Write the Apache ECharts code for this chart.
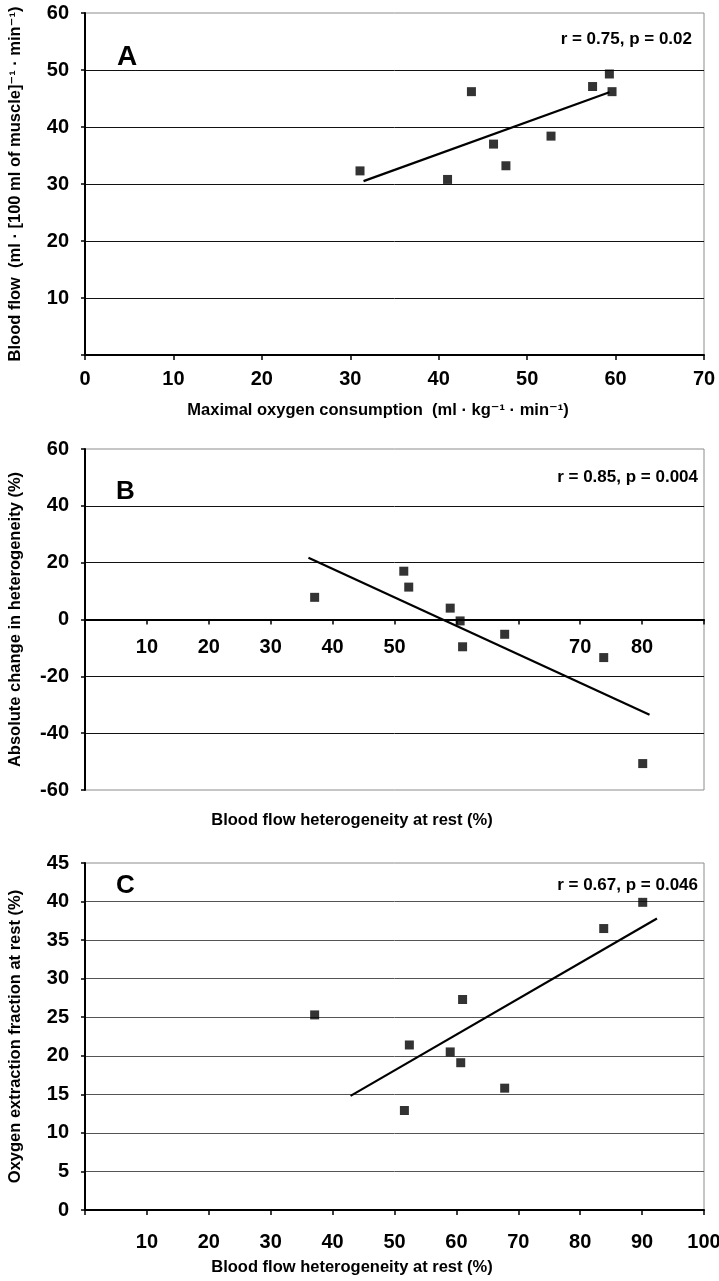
<!DOCTYPE html>
<html>
<head>
<meta charset="utf-8">
<script src="https://cdn.jsdelivr.net/npm/echarts@6/dist/echarts.min.js"></script>
<style>
html,body{margin:0;padding:0;background:#fff;}
#c{width:719px;height:1281px;}
</style>
</head>
<body>
<div id="c"></div>
<script>
// ---------- data ----------
// Panel A
const aVO2      = [31.1, 41.0, 43.7, 46.2, 47.6, 52.7, 57.4, 59.3, 59.6];
const aFlow     = [32.3, 30.8, 46.2, 37.0, 33.2, 38.4, 47.1, 49.3, 46.2];
const aTrendX   = [31.5, 59.3];
const aTrendY   = [30.5, 46.1];
const aXTicks   = ["0", "10", "20", "30", "40", "50", "60", "70"];
const aYTicks   = ["", "10", "20", "30", "40", "50", "60"];
// Panel B
const bHet      = [37.1, 51.5, 52.3, 59.0, 60.6, 61.0, 67.8, 83.8, 90.1];
const bChange   = [7.8, 17.0, 11.4, 4.0, -0.5, -9.6, -5.2, -13.4, -50.7];
const bTrendX   = [36.1, 91.2];
const bTrendY   = [21.7, -33.5];
const bXTicks   = ["", "10", "20", "30", "40", "50", "", "", "70", "80", ""];
const bYTicks   = ["-60", "-40", "-20", "0", "20", "40", "60"];
// Panel C
const cHet      = [37.1, 51.6, 52.4, 59.0, 60.7, 61.0, 67.8, 83.8, 90.1];
const cO2       = [25.3, 12.9, 21.4, 20.5, 19.1, 27.3, 15.8, 36.5, 39.9];
const cTrendX   = [42.9, 92.4];
const cTrendY   = [14.8, 37.8];
const cXTicks   = ["", "10", "20", "30", "40", "50", "60", "70", "80", "90", "100"];
const cYTicks   = ["0", "5", "10", "15", "20", "25", "30", "35", "40", "45"];

const panelLetters = ["A", "B", "C"];
const statTexts = ["r = 0.75, p = 0.02", "r = 0.85, p = 0.004", "r = 0.67, p = 0.046"];
const xTitles = ["Maximal oxygen consumption  (ml \u00b7 kg\u207b\u00b9 \u00b7 min\u207b\u00b9)",
                 "Blood flow heterogeneity at rest (%)",
                 "Blood flow heterogeneity at rest (%)"];
const yTitles = ["Blood flow  (ml \u00b7 [100 ml of muscle]\u207b\u00b9 \u00b7 min\u207b\u00b9)",
                 "Absolute change in heterogeneity (%)",
                 "Oxygen extraction fraction at rest (%)"];

// ---------- chart ----------
const FONT = '"Liberation Sans", Arial, "DejaVu Sans", sans-serif';
const chart = echarts.init(document.getElementById('c'), null, {renderer: 'canvas'});

function zip(xs, ys) { return xs.map((x, i) => [x, ys[i]]); }
function fmt(labels, min, step) {
  return v => { const i = Math.round((v - min) / step); return labels[i] !== undefined ? labels[i] : ''; };
}

const grids = [
  {left: 85, right: 15, top: 13, height: 342},
  {left: 85, right: 15, top: 449, height: 341},
  {left: 85, right: 15, top: 863, height: 347}
].map(g => Object.assign({show: true, borderColor: '#8c8c8c', borderWidth: 1,
                           containLabel: false, outerBoundsMode: 'none'}, g));

const xSpec = [
  {min: 0, max: 70, interval: 10, labels: aXTicks, margin: 14, nameGap: 47, pad: 33},
  {min: 0, max: 100, interval: 10, labels: bXTicks, margin: -153, nameGap: 22, pad: 85},
  {min: 0, max: 100, interval: 10, labels: cXTicks, margin: 22, nameGap: 49, pad: 85}
];
const ySpec = [
  {min: 0, max: 60, interval: 10, labels: aYTicks, grid: '#111'},
  {min: -60, max: 60, interval: 20, labels: bYTicks, grid: '#111'},
  {min: 0, max: 45, interval: 5, labels: cYTicks, grid: '#555'}
];

const xAxis = xSpec.map((s, i) => ({
  type: 'value', gridIndex: i, min: s.min, max: s.max, interval: s.interval,
  name: xTitles[i], nameLocation: 'middle', nameGap: s.nameGap,
  nameTextStyle: {fontFamily: FONT, fontWeight: 'bold', fontSize: 16.5, color: '#000', padding: [0, s.pad, 0, 0]},
  axisLine: {show: true, onZero: true, lineStyle: {color: '#000', width: 2}},
  axisTick: {show: true, inside: false, length: 5, lineStyle: {color: '#000', width: 1.5}},
  axisLabel: {show: true, margin: s.margin, showMinLabel: true, showMaxLabel: true,
              fontFamily: FONT, fontWeight: 'bold', fontSize: 20, color: '#000',
              formatter: fmt(s.labels, s.min, s.interval)},
  splitLine: {show: false}
}));

const yAxis = ySpec.map((s, i) => ({
  type: 'value', gridIndex: i, min: s.min, max: s.max, interval: s.interval,
  name: yTitles[i], nameLocation: 'middle', nameGap: 61, nameRotate: 90,
  nameTextStyle: {fontFamily: FONT, fontWeight: 'bold', fontSize: 16.5, color: '#000'},
  axisLine: {show: true, onZero: false, lineStyle: {color: '#000', width: 2}},
  axisTick: {show: true, inside: false, length: 4, lineStyle: {color: '#000', width: 1.5}},
  axisLabel: {show: true, margin: 16, showMinLabel: true, showMaxLabel: true,
              fontFamily: FONT, fontWeight: 'bold', fontSize: 20, color: '#000',
              formatter: fmt(s.labels, s.min, s.interval)},
  splitLine: {show: true, showMinLine: false, showMaxLine: false, lineStyle: {color: s.grid, width: 1}}
}));

const pts = [zip(aVO2, aFlow), zip(bHet, bChange), zip(cHet, cO2)];
const trends = [zip(aTrendX, aTrendY), zip(bTrendX, bTrendY), zip(cTrendX, cTrendY)];

const series = [];
for (let i = 0; i < 3; i++) {
  series.push({
    type: 'line', xAxisIndex: i, yAxisIndex: i, data: trends[i],
    showSymbol: false, symbol: 'none', silent: true, z: 2,
    lineStyle: {color: '#000', width: 2.2}, animation: false
  });
  series.push({
    type: 'scatter', xAxisIndex: i, yAxisIndex: i, data: pts[i],
    symbol: 'rect', symbolSize: 9, z: 3,
    itemStyle: {color: '#000'}, animation: false
  });
}

const letterPos = [[117, 57, 28], [116, 492, 26], [116, 886, 26]];
const statPos = [[692, 39], [698, 477], [698, 885]];
const graphic = [];
for (let i = 0; i < 3; i++) {
  graphic.push({type: 'text', x: letterPos[i][0], y: letterPos[i][1], z: 10,
    style: {text: panelLetters[i], fill: '#000', textAlign: 'left', textVerticalAlign: 'middle',
            font: 'bold ' + letterPos[i][2] + 'px ' + FONT}});
  graphic.push({type: 'text', x: statPos[i][0], y: statPos[i][1], z: 10,
    style: {text: statTexts[i], fill: '#000', textAlign: 'right', textVerticalAlign: 'middle',
            font: 'bold 17px ' + FONT}});
}

chart.setOption({
  animation: false,
  backgroundColor: '#fff',
  grid: grids,
  xAxis: xAxis,
  yAxis: yAxis,
  series: series,
  graphic: graphic
});
</script>
</body>
</html>
